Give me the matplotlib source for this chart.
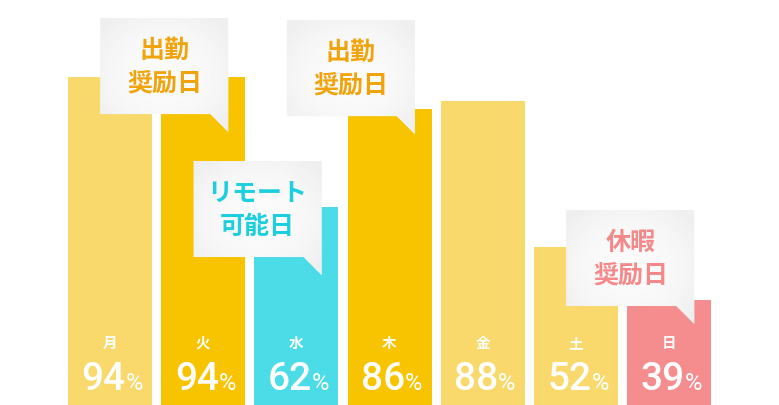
import matplotlib
matplotlib.use("Agg")
import matplotlib.pyplot as plt
import numpy as np
from matplotlib.patches import Polygon

plt.rcParams['font.family'] = ['Noto Sans CJK JP', 'DejaVu Sans']

days = ['月', '火', '水', '木', '金', '土', '日']
rates = [94, 94, 62, 86, 88, 52, 39]
bar_colors = ['#F9D96B', '#F8C400', '#4BDCE7', '#F8C400', '#F9D96B', '#F9D96B', '#F58D8E']

# callouts: text lines, text colour, bar index, y of the tail tip
callout_text = [['出勤', '奨励日'], ['出勤', '奨励日'], ['リモート', '可能日'], ['休暇', '奨励日']]
callout_color = ['#F0A30A', '#F0A30A', '#1CCFE0', '#F58888']
callout_bar = [1, 3, 2, 6]
callout_tip = [80.4, 79.9, 45.1, 33.0]

fig = plt.figure(figsize=(7.79, 4.06), dpi=100)
ax = fig.add_axes([0, 0, 1, 1])
ax.set_xlim(-1.18, 7.178)
ax.set_ylim(13, 113.25)
ax.axis('off')

x = np.arange(len(days))
ax.bar(x, rates, width=0.9, bottom=0, color=bar_colors, zorder=1)

for i in x:
    ax.text(i, 28.6, days[i], ha='center', va='center', color='white',
            fontsize=10.5, fontweight='bold', zorder=5)
    ax.text(i + 0.17, 16.9, str(rates[i]), ha='right', va='baseline', color='white',
            fontsize=28, fontweight='medium', family=['Roboto', 'DejaVu Sans'], zorder=5)
    ax.text(i + 0.165, 16.9, '%', ha='left', va='baseline', color='white',
            fontsize=17, family=['Roboto', 'DejaVu Sans'], zorder=5)

# speech bubbles
bw, bh = 1.373, 23.7
tw, th = 0.193, 4.44
yy, xx = np.mgrid[-1:1:80j, -1:1:120j]
r = np.clip(np.sqrt(xx ** 2 + yy ** 2) / 1.3, 0, 1)
grad = 0.985 - 0.05 * r ** 2
for lines, col, b, tip in zip(callout_text, callout_color, callout_bar, callout_tip):
    right = b + 0.27
    bottom = tip + th
    left = right - bw
    top = bottom + bh
    poly = Polygon([(left, bottom), (right - tw, bottom), (right, tip), (right, bottom),
                    (right, top), (left, top)], closed=True, facecolor='#F4F4F4',
                   edgecolor='none', zorder=3)
    ax.add_patch(poly)
    im = ax.imshow(grad, extent=(left, right, tip, top), cmap='gray', vmin=0, vmax=1,
                   aspect='auto', zorder=3.5, interpolation='bilinear')
    im.set_clip_path(poly)
    cx = left + bw / 2
    cy = bottom + bh / 2
    ax.text(cx, cy + 4.1, lines[0], ha='center', va='center', color=col,
            fontsize=18, fontweight='bold', zorder=6)
    ax.text(cx, cy - 4.1, lines[1], ha='center', va='center', color=col,
            fontsize=18, fontweight='bold', zorder=6)

fig.savefig('out.png', dpi=100)
